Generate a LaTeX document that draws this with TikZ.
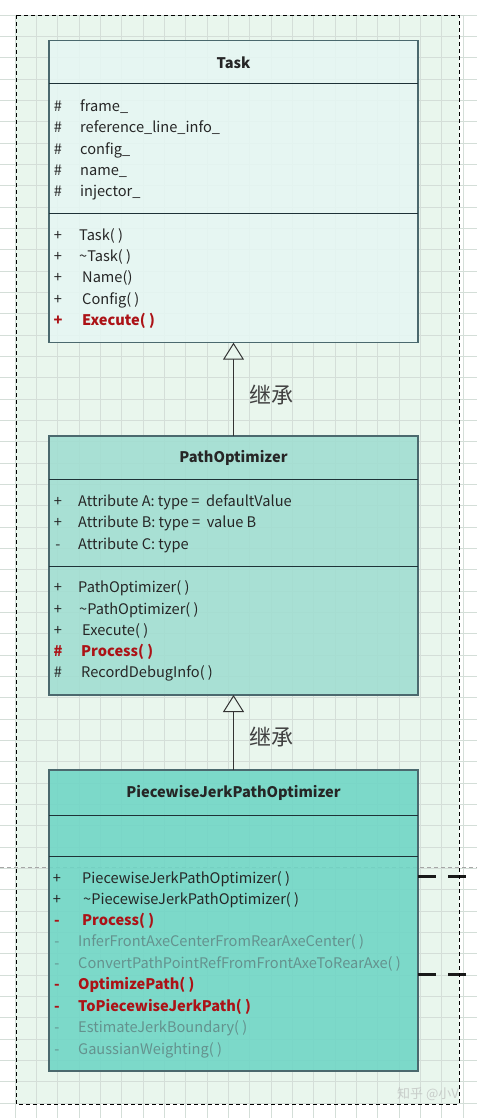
\documentclass[tikz,border=0pt]{standalone}
\usepackage{fontspec}
\setmainfont{Noto Sans CJK SC}
\usepackage{tikz}
\usetikzlibrary{arrows.meta}
\definecolor{bggreen}{RGB}{233,246,237}
\definecolor{gridcol}{RGB}{212,222,216}
\definecolor{taskfill}{RGB}{230,246,243}
\definecolor{pofill}{RGB}{160,221,209}
\definecolor{pjfill}{RGB}{110,214,197}
\definecolor{edgecol}{RGB}{75,105,110}
\definecolor{divcol}{RGB}{30,50,55}
\definecolor{redtxt}{RGB}{172,18,22}
\definecolor{graytxt}{RGB}{100,146,142}

\begin{document}
\begin{tikzpicture}[x=1pt,y=-1pt,
  classbox/.style={draw=edgecol, line width=1.5pt, inner sep=0pt, outer sep=0pt, fill opacity=0.88, minimum width=369pt},
  divider/.style={draw=divcol, line width=1pt},
  header/.style={font=\fontsize{14.6}{16}\selectfont\bfseries, text=black!85},
  member/.style={anchor=west, inner sep=0pt, font=\fontsize{14.6}{16}\selectfont, text=black!85, text height=1.5ex, text depth=.3ex},
  redmember/.style={member, text=redtxt, font=\fontsize{14.6}{16}\selectfont\bfseries},
  graymember/.style={member, text=graytxt},
  sign/.style={member, anchor=center},
  redsign/.style={redmember, anchor=center},
  graysign/.style={graymember, anchor=center},
  inherit/.style={draw=black!80, line width=1pt, -{Triangle[width=21pt,length=17pt,fill=bggreen]}},
  lbl/.style={font=\fontsize{22}{24}\selectfont, text=black!75},
  dashline/.style={draw=black!90, line width=3pt, dash pattern=on 18pt off 12pt}]
 \useasboundingbox (0,0) rectangle (477,1118);
 % background with grid
 \fill[bggreen] (16,15) rectangle (459,1104);
 \foreach \i in {0,...,51} \draw[gridcol, line width=0.8pt] (0,15+21.333*\i) -- (477,15+21.333*\i);
 \foreach \i in {0,...,21} \draw[gridcol, line width=0.8pt] (15+21.333*\i,15) -- (15+21.333*\i,1118);
 \draw[black!35, line width=0.6pt, dash pattern=on 4pt off 3pt] (0,867) -- (477,867);

 % classes
 \node[classbox, fill=taskfill, minimum height=302pt] (task) at (233.5,191.7) {};
 \node[classbox, fill=pofill, minimum height=259pt] (po) at (233.5,565.5) {};
 \node[classbox, fill=pjfill, minimum height=301pt] (pj) at (233.5,920.5) {};
 \draw[divider] (task.west |- 0,84) -- (task.east |- 0,84);
 \draw[divider] (task.west |- 0,213) -- (task.east |- 0,213);
 \draw[divider] (po.west |- 0,479) -- (po.east |- 0,479);
 \draw[divider] (po.west |- 0,566) -- (po.east |- 0,566);
 \draw[divider] (pj.west |- 0,815) -- (pj.east |- 0,815);
 \draw[divider] (pj.west |- 0,856) -- (pj.east |- 0,856);

 \node[header] (taskname) at (233.5,63) {Task};
 \node[header] (poname) at (233.5,458) {PathOptimizer};
 \node[header] (pjname) at (233.5,793) {PiecewiseJerkPathOptimizer};

 % Task
 \foreach \y/\t in {108/frame\_, 129/reference\_line\_info\_, 151/config\_, 172/name\_, 193/injector\_} {
  \node[sign] (tas\y) at (58,\y) {\#};
  \node[member] (ta\y) at (80,\y) {\t};
 }
 \foreach \y/\x/\t in {237/79/Task( ), 258/79/\textasciitilde Task( ), 279/82/Name(), 301/82/Config( )} {
  \node[sign] (tms\y) at (58,\y) {+};
  \node[member] (tm\y) at (\x,\y) {\t};
 }
 \node[redsign] (tms322) at (58,322) {+};
 \node[redmember] (tm322) at (82,322) {Execute( )};

 % PathOptimizer
 \foreach \y/\s/\t in {503/+/Attribute A: type =\ \ defaultValue, 524/+/Attribute B: type =\ \ value B, 546/-/Attribute C: type} {
  \node[sign] (pas\y) at (58,\y) {\s};
  \node[member] (pa\y) at (78,\y) {\t};
 }
 \foreach \y/\x/\t in {589/78/PathOptimizer( ), 611/79/\textasciitilde PathOptimizer( ), 632/82/Execute( )} {
  \node[sign] (pms\y) at (58,\y) {+};
  \node[member] (pm\y) at (\x,\y) {\t};
 }
 \node[redsign] (pms653) at (58,653) {\#};
 \node[redmember] (pm653) at (81,653) {Process( )};
 \node[sign] (pms674) at (58,674) {\#};
 \node[member] (pm674) at (81,674) {RecordDebugInfo( )};

 % PiecewiseJerkPathOptimizer
 \foreach \y/\s/\x/\t/\st in {880/+/82/PiecewiseJerkPathOptimizer( )/member,
   901/+/83/\textasciitilde PiecewiseJerkPathOptimizer( )/member,
   922/-/82/Process( )/redmember,
   943/-/78/InferFrontAxeCenterFromRearAxeCenter( )/graymember,
   965/-/78/ConvertPathPointRefFromFrontAxeToRearAxe( )/graymember,
   986/-/78/OptimizePath( )/redmember,
   1008/-/78/ToPiecewiseJerkPath( )/redmember,
   1029/-/78/EstimateJerkBoundary( )/graymember,
   1051/-/78/GaussianWeighting( )/graymember} {
  \node[\st, anchor=center] (pjs\y) at (57,\y) {\s};
  \node[\st] (pjm\y) at (\x,\y) {\t};
 }

 % inheritance
 \draw[inherit] (po.north) -- (task.south);
 \draw[inherit] (pj.north) -- (po.south);
 \node[lbl] (inh1) at (271,395) {继承};
 \node[lbl] (inh2) at (271,737) {继承};

 % links to the right
 \coordinate (out1) at (467,876);
 \coordinate (out2) at (467,974);
 \draw[dashline] (pj.east |- out1) -- (out1);
 \draw[dashline] (pj.east |- out2) -- (out2);

 \draw[black, line width=0.9pt, dash pattern=on 4pt off 3pt] (16,15) rectangle (459,1104);
 \node[font=\fontsize{13}{14}\selectfont, text=black!30, opacity=0.6] (mark) at (428,1094) {知乎 @小V};
\end{tikzpicture}
\end{document}
